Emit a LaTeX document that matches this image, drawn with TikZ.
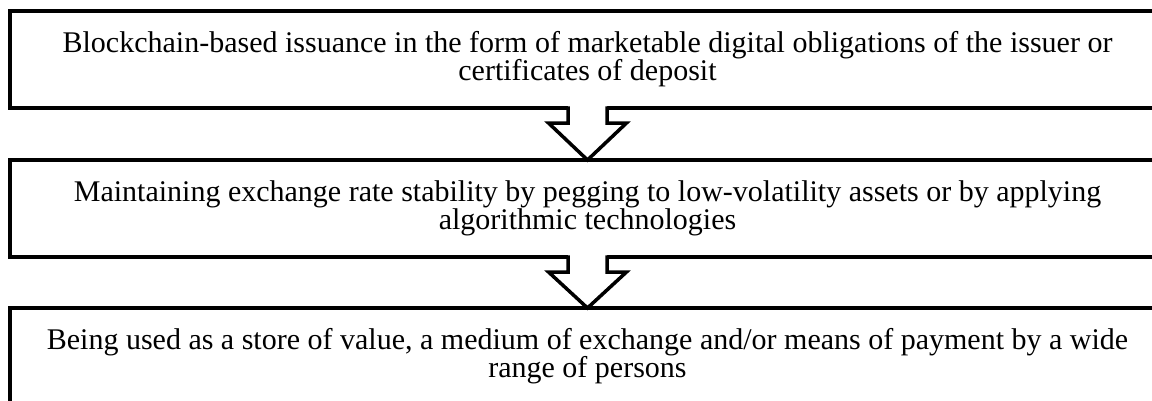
\documentclass[tikz,border=0pt]{standalone}
\usepackage{fontspec}
\setmainfont{Liberation Serif}
\usepackage{tikz}

\begin{document}
\begin{tikzpicture}[
  x=1pt, y=-1pt,
  font=\fontsize{30}{28}\selectfont,
  stage/.style={draw, line width=3.5pt, align=center, outer sep=0pt, inner sep=0pt,
    minimum width=1155pt, minimum height=97pt, anchor=north, text height=41pt, text depth=0pt},
  blockarrow/.style={line width=3.5pt, line join=miter}
]
\useasboundingbox (0,0) rectangle (1152,400);
\node[stage] (issue) at (587.5,11) {Blockchain-based issuance in the form of marketable digital obligations of the issuer or\\certificates of deposit};
\node[stage] (stable) at (587.5,160) {Maintaining exchange rate stability by pegging to low-volatility assets or by applying\\algorithmic technologies};
\node[stage] (usage) at (587.5,308) {Being used as a store of value, a medium of exchange and/or means of payment by a wide\\range of persons};

% hollow arrows between the boxes
\foreach \from/\to in {issue/stable, stable/usage}{
  \fill[white] ([xshift=-19.5pt,yshift=2pt]\from.south) -- ([xshift=-19.5pt,yshift=-15pt]\from.south)
    -- ([xshift=-39pt,yshift=-15pt]\from.south) -- (\to.north)
    -- ([xshift=39pt,yshift=-15pt]\from.south) -- ([xshift=19.5pt,yshift=-15pt]\from.south)
    -- ([xshift=19.5pt,yshift=2pt]\from.south) -- cycle;
  \draw[blockarrow] ([xshift=-19.5pt,yshift=1.75pt]\from.south) -- ([xshift=-19.5pt,yshift=-15pt]\from.south)
    -- ([xshift=-39pt,yshift=-15pt]\from.south) -- (\to.north)
    -- ([xshift=39pt,yshift=-15pt]\from.south) -- ([xshift=19.5pt,yshift=-15pt]\from.south)
    -- ([xshift=19.5pt,yshift=1.75pt]\from.south);
}
\end{tikzpicture}
\end{document}
